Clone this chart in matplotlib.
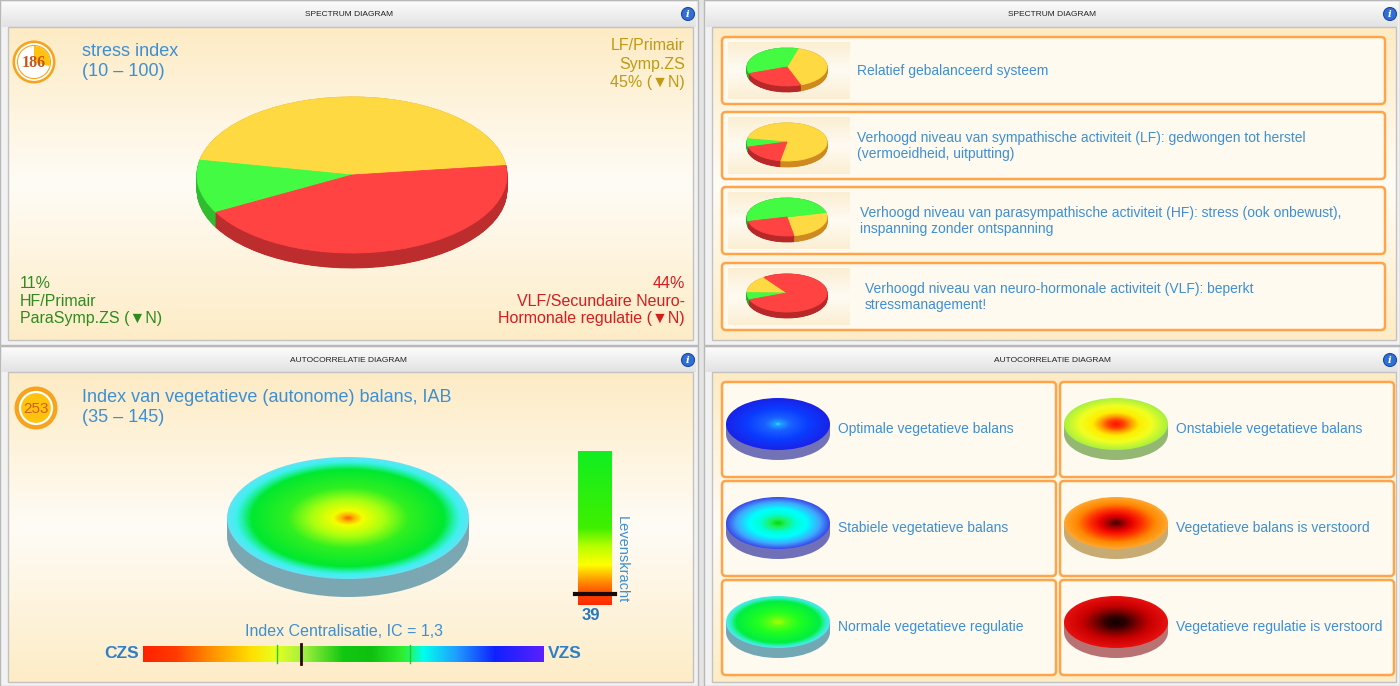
import numpy as np
import matplotlib
matplotlib.use("Agg")
import matplotlib.pyplot as plt
from matplotlib.patches import Rectangle, FancyBboxPatch, Ellipse, Circle, Wedge
from matplotlib.colors import LinearSegmentedColormap

plt.rcParams['font.family'] = ['Liberation Sans', 'DejaVu Sans']

W, H = 1400, 686

# ---------------- data ----------------
header_titles = ["SPECTRUM DIAGRAM", "SPECTRUM DIAGRAM",
                 "AUTOCORRELATIE DIAGRAM", "AUTOCORRELATIE DIAGRAM"]

stress_index = 186
stress_title = "stress index"
stress_range = "(10 – 100)"

spectrum_keys = ["LF", "HF", "VLF"]
spectrum_values = [45, 11, 44]
spectrum_start = 7
spectrum_colors = ["#ffd942", "#42fb42", "#ff4343"]
spectrum_side_colors = ["#d8a422", "#2fbd2f", "#bd2d2d"]
lf_lines = ["LF/Primair", "Symp.ZS"]
hf_lines = ["HF/Primair", "ParaSymp.ZS"]
vlf_lines = ["VLF/Secundaire Neuro-", "Hormonale regulatie"]
status_mark = "▼N"

pattern_texts = [
    "Relatief gebalanceerd systeem",
    "Verhoogd niveau van sympathische activiteit (LF): gedwongen tot herstel\n(vermoeidheid, uitputting)",
    "Verhoogd niveau van parasympathische activiteit (HF): stress (ook onbewust),\ninspanning zonder ontspanning",
    "Verhoogd niveau van neuro-hormonale activiteit (VLF): beperkt\nstressmanagement!",
]
# order per pie: LF (yellow), HF (green), VLF (red)
pattern_values = [[40, 35, 25], [75, 7, 18], [26, 50, 24], [15, 6, 79]]
pattern_starts = [-70, -100, -80, 125]
thumb_side_colors = ["#cf8a1f", "#2aa82a", "#b82828"]

iab_value = 253
iab_title = "Index van vegetatieve (autonome) balans, IAB"
iab_range = "(35 – 145)"

levenskracht_label = "Levenskracht"
levenskracht = 39
levenskracht_limits = (25, 225)

ic_value = 1.3
ic_limits = (0.0, 3.3)
ic_normal = [1.1, 2.2]
ic_left, ic_right = "CZS", "VZS"

main_disc_stops = [(0, '#ff5a00'), (0.05, '#ffb000'), (0.12, '#f4ff00'),
                   (0.3, '#a8ff10'), (0.5, '#30f020'), (0.8, '#00e830'),
                   (0.87, '#20f0a0'), (0.93, '#40f0f0'), (1, '#60e4f4')]
main_disc_side = '#7ba7b3'

disc_texts = ["Optimale vegetatieve balans", "Onstabiele vegetatieve balans",
              "Stabiele vegetatieve balans", "Vegetatieve balans is verstoord",
              "Normale vegetatieve regulatie", "Vegetatieve regulatie is verstoord"]
disc_stops = [
    [(0, '#30e8ff'), (0.06, '#20a0ff'), (0.25, '#1a60ff'), (0.6, '#0a3cff'), (1, '#1a22e8')],
    [(0, '#ff1000'), (0.15, '#ff4000'), (0.3, '#ffa000'), (0.45, '#ffee00'), (0.7, '#f0ff20'), (1, '#a8f040')],
    [(0, '#00dd00'), (0.15, '#20f060'), (0.35, '#00ffd8'), (0.55, '#00ffff'), (0.8, '#40a8ff'), (1, '#3a48e8')],
    [(0, '#3a0000'), (0.12, '#8a0000'), (0.3, '#e80000'), (0.5, '#ff3000'), (0.75, '#ff8800'), (1, '#ffa830')],
    [(0, '#b0ff00'), (0.15, '#60ff10'), (0.4, '#20ff20'), (0.8, '#00ee40'), (0.92, '#30f0c0'), (1, '#50e8f0')],
    [(0, '#100000'), (0.2, '#300000'), (0.4, '#7a0000'), (0.65, '#c80000'), (1, '#e81010')],
]
disc_sides = ['#7272b6', '#94b874', '#7070b8', '#c8ab72', '#72a8b4', '#b87272']

lk_stops = [(0, '#ff2a00'), (0.06, '#ff4000'), (0.13, '#ff7a00'), (0.2, '#ffc000'),
            (0.26, '#ffff00'), (0.38, '#b8ff00'), (0.5, '#40f000'), (1, '#10ee20')]
ic_stops = [(0, '#ff2200'), (0.08, '#ff3a00'), (0.17, '#ff9000'), (0.27, '#ffe000'),
            (0.33, '#e8ff20'), (0.4, '#a0f040'), (0.5, '#10c810'), (0.57, '#10c010'),
            (0.65, '#30f030'), (0.7, '#00ffee'), (0.78, '#20a0ff'), (0.88, '#1020ff'),
            (1.0, '#5a20ff')]

BLUE = '#3d8fd4'

# ---------------- figure ----------------
fig = plt.figure(figsize=(14, 6.86), dpi=100)
fig.patch.set_facecolor('#e4e4e4')
ax = fig.add_axes([0, 0, 1, 1])
ax.axis('off')


def frect(x, y, w, h):
    return [x / W, 1 - (y + h) / H, w / W, h / H]


def vgrad(x0, y0, x1, y1, stops, z, horizontal=False):
    cmap = LinearSegmentedColormap.from_list('g', stops)
    arr = cmap(np.linspace(0, 1, 256))
    arr = arr[None, :, :] if horizontal else arr[:, None, :]
    return ax.imshow(arr, extent=(x0, x1, y1, y0), aspect='auto', zorder=z,
                     interpolation='bilinear')


cream = [(0, '#fdebc4'), (0.5, '#fffcf6'), (1, '#fdecc6')]

panels = [(0, 0, 698, 345), (704, 0, 696, 345), (0, 346, 698, 340), (704, 346, 696, 340)]
contents = [(8, 27, 685, 313), (712, 27, 684, 313), (8, 372, 685, 310), (712, 372, 684, 310)]
for (px, py, pw, ph), (cx_, cy_, cw, chh), title in zip(panels, contents, header_titles):
    ax.add_patch(Rectangle((px, py), pw, ph, fc='#f2f2f2', ec='#b8b8b8', lw=1, zorder=0.5))
    vgrad(px + 2, py + 2, px + pw - 2, cy_, [(0, '#fbfbfb'), (1, '#e2e2e2')], 0.8)
    ax.text(px + pw / 2, py + 15, title, fontsize=6, color='#222222', ha='center', va='center', zorder=6)
    ax.add_patch(Circle((px + pw - 10, py + 14), 6.5, fc='#2f6fd6', ec='#1c4aa0', lw=0.8, zorder=6))
    ax.text(px + pw - 10, py + 14.5, 'i', fontsize=7, color='white', weight='bold', style='italic',
            ha='center', va='center', zorder=7, family='DejaVu Serif')
    vgrad(cx_, cy_, cx_ + cw, cy_ + chh, cream, 1)
    ax.add_patch(Rectangle((cx_, cy_), cw, chh, fc='none', ec='#c2c2c2', lw=1, zorder=1.5))


def pie3d(cx, cy, a, b, depth, values, colors, side_colors, start):
    m = 2
    pax = fig.add_axes(frect(cx - a - m, cy - b - m, 2 * a + 2 * m, 2 * b + depth + 2 * m))
    d = depth / b
    nlay = int(depth * 2) + 2
    for off in np.linspace(d, 0, nlay):
        wed, _ = pax.pie(values, colors=side_colors, startangle=start, center=(0, -off),
                         wedgeprops=dict(linewidth=0.6))
        for w_ in wed:
            w_.set_edgecolor(w_.get_facecolor())
    wed, _ = pax.pie(values, colors=colors, startangle=start, wedgeprops=dict(linewidth=0.6))
    for w_ in wed:
        w_.set_edgecolor(w_.get_facecolor())
    mx, my = m / a, m / b
    pax.set_aspect('auto')
    pax.set_xlim(-1 - mx, 1 + mx)
    pax.set_ylim(-1 - d - my, 1 + my)
    pax.axis('off')
    return pax


def disc(cx, cy, a, b, depth, stops, side):
    ax.add_patch(Ellipse((cx, cy + depth), 2 * a, 2 * b, fc=side, ec='none', zorder=3))
    ax.add_patch(Rectangle((cx - a, cy), 2 * a, depth, fc=side, ec='none', zorder=3))
    cmap = LinearSegmentedColormap.from_list('d', stops)
    yy, xx = np.mgrid[-1:1:240j, -1:1:480j]
    r = np.clip(np.sqrt(xx ** 2 + yy ** 2), 0, 1)
    im = ax.imshow(cmap(r), extent=(cx - a, cx + a, cy + b, cy - b), aspect='auto', zorder=4,
                   interpolation='bilinear')
    im.set_clip_path(Ellipse((cx, cy), 2 * a, 2 * b, transform=ax.transData))


# ---------------- top-left: spectrum ----------------
ax.add_patch(Circle((34, 62), 21.5, fc='#f7a31c', ec='none', zorder=5))
ax.add_patch(Circle((34, 62), 18, fc='none', ec='white', lw=1.3, zorder=5))
ax.add_patch(Circle((34, 62), 16, fc='white', ec='none', zorder=5))
ax.add_patch(Wedge((34, 62), 16, -90, 15, fc='#ffc20f', ec='none', zorder=5))
ax.text(34, 63, str(stress_index), fontsize=11.5, weight='bold', color='#c8541a', ha='center',
        va='center', family='Liberation Serif', zorder=6)
ax.text(82, 52, stress_title, fontsize=13, color=BLUE, va='center', zorder=6)
ax.text(82, 71, stress_range, fontsize=13, color=BLUE, va='center', zorder=6)

pie3d(352, 175, 155, 78, 15, spectrum_values, spectrum_colors, spectrum_side_colors, spectrum_start)

lf_text = lf_lines + [f"{spectrum_values[0]}% ({status_mark})"]
for yy_, s in zip([46, 64, 82], lf_text):
    ax.text(685, yy_, s, fontsize=11.5, color='#bf9a12', ha='right', va='center', zorder=6)
hf_text = [f"{spectrum_values[1]}%", hf_lines[0], f"{hf_lines[1]} ({status_mark})"]
for yy_, s in zip([283, 301, 319], hf_text):
    ax.text(20, yy_, s, fontsize=11.5, color='#2e8c1e', ha='left', va='center', zorder=6)
vlf_text = [f"{spectrum_values[2]}%", vlf_lines[0], f"{vlf_lines[1]} ({status_mark})"]
for yy_, s in zip([283, 301, 319], vlf_text):
    ax.text(685, yy_, s, fontsize=11.5, color='#d41e1e', ha='right', va='center', zorder=6)

# ---------------- top-right: spectrum patterns ----------------
card_ys = [37, 112, 187, 263]
text_xs = [857, 857, 860, 865]
for cy0, txt, vals, st, tx in zip(card_ys, pattern_texts, pattern_values, pattern_starts, text_xs):
    ax.add_patch(FancyBboxPatch((722, cy0), 663, 67, boxstyle='round,pad=0,rounding_size=4',
                                fc='#fffaf0', ec='#ffa448', lw=1.8, zorder=2))
    vgrad(728, cy0 + 5, 850, cy0 + 62, [(0, '#fbeed2'), (0.5, '#fffbf3'), (1, '#fbeed2')], 2.5)
    pie3d(787, cy0 + 30, 40, 19, 6, vals, spectrum_colors, thumb_side_colors, st)
    ax.text(tx, cy0 + 34, txt, fontsize=10, color=BLUE, ha='left', va='center',
            linespacing=1.15, zorder=6)

# ---------------- bottom-left: autocorrelation ----------------
ax.add_patch(Circle((36, 408), 21.5, fc='#f7a31c', ec='none', zorder=5))
ax.add_patch(Circle((36, 408), 16, fc='#ffc20f', ec='white', lw=1.6, zorder=5))
ax.text(36, 409, str(iab_value), fontsize=11, color='#d0601a', ha='center', va='center', zorder=6)
ax.text(82, 397, iab_title, fontsize=13, color=BLUE, va='center', zorder=6)
ax.text(82, 417, iab_range, fontsize=13, color=BLUE, va='center', zorder=6)

disc(348, 518, 121, 61, 18, main_disc_stops, main_disc_side)

# Levenskracht bar
lk_ax = fig.add_axes(frect(578, 451, 34, 154))
lk_cmap = LinearSegmentedColormap.from_list('lk', lk_stops)
lk_ax.imshow(lk_cmap(np.linspace(0, 1, 256))[:, None, :], origin='lower', aspect='auto',
             extent=(0, 1, levenskracht_limits[0], levenskracht_limits[1]), interpolation='bilinear')
lk_ax.set_xlim(0, 1)
lk_ax.set_ylim(*levenskracht_limits)
lk_ax.axhline(levenskracht, xmin=-0.08, xmax=1.08, color='#1a0808', lw=3, clip_on=False)
lk_ax.axis('off')
ax.text(591, 615, str(levenskracht), fontsize=12, weight='bold', color='#2a76bd', ha='center',
        va='center', zorder=6)
ax.text(622, 560, levenskracht_label, fontsize=10.5, color=BLUE, rotation=-90, ha='center',
        va='center', zorder=6)

# Centralisation bar
ax.text(344, 631, f"Index Centralisatie, IC = {ic_value:.1f}".replace('.', ','), fontsize=11.5,
        color=BLUE, ha='center', va='center', zorder=6)
ic_ax = fig.add_axes(frect(143, 646, 401, 16))
ic_cmap = LinearSegmentedColormap.from_list('ic', ic_stops)
ic_ax.imshow(ic_cmap(np.linspace(0, 1, 512))[None, :, :], aspect='auto',
             extent=(ic_limits[0], ic_limits[1], 0, 1), interpolation='bilinear')
ic_ax.set_xlim(*ic_limits)
ic_ax.set_ylim(0, 1)
for v in ic_normal:
    ic_ax.axvline(v, ymin=-0.05, ymax=1.05, color='#22cc22', lw=1, clip_on=False)
ic_ax.axvline(ic_value, ymin=-0.12, ymax=1.12, color='#2a0808', lw=2, clip_on=False)
ic_ax.axis('off')
ax.text(139, 654, ic_left, fontsize=12.5, weight='bold', color='#2f7fc8', ha='right', va='center', zorder=6)
ax.text(548, 654, ic_right, fontsize=12.5, weight='bold', color='#2f7fc8', ha='left', va='center', zorder=6)

# ---------------- bottom-right: autocorrelation patterns ----------------
col_xs = [722, 1060]
row_ys = [382, 481, 580]
k = 0
for ry in row_ys:
    for cx0 in col_xs:
        ax.add_patch(FancyBboxPatch((cx0, ry), 334, 95, boxstyle='round,pad=0,rounding_size=4',
                                    fc='#fffaf0', ec='#ffa448', lw=1.8, zorder=2))
        disc(cx0 + 56, ry + 42, 52, 26, 10, disc_stops[k], disc_sides[k])
        ax.text(cx0 + 116, ry + 47, disc_texts[k], fontsize=10, color=BLUE, ha='left',
                va='center', zorder=6)
        k += 1

ax.set_xlim(0, W)
ax.set_ylim(H, 0)
fig.savefig('out.png', dpi=100, facecolor=fig.get_facecolor())
